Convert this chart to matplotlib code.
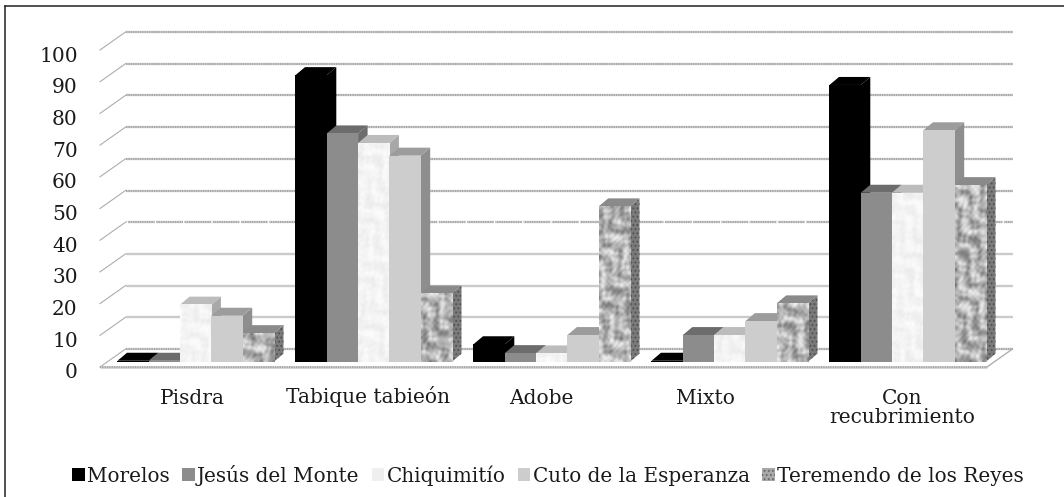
import matplotlib
matplotlib.use("Agg")
import numpy as np
import matplotlib.pyplot as plt
from matplotlib.patches import Polygon, Patch
from matplotlib.lines import Line2D
from matplotlib.transforms import ScaledTranslation

plt.rcParams['font.family'] = ['DejaVu Serif']
plt.rcParams['hatch.linewidth'] = 0.8

categories = ['Pisdra', 'Tabique tabieón', 'Adobe', 'Mixto', 'Con\nrecubrimiento']
morelos = [0.3, 90.4, 5.5, 0.3, 87.3]
jesus = [0.3, 72, 2.7, 8.4, 53.3]
chiquimitio = [18, 69, 2.6, 8.4, 53.3]
cuto = [14.5, 65, 8.4, 12.8, 73]
teremendo = [9, 21.5, 49, 18.4, 55.7]
series_names = ['Morelos', 'Jesús del Monte', 'Chiquimitío', 'Cuto de la Esperanza', 'Teremendo de los Reyes']
series_values = [morelos, jesus, chiquimitio, cuto, teremendo]
y_ticks = list(range(0, 101, 10))

W, H = 1064, 497
fig = plt.figure(figsize=(W / 100, H / 100), dpi=100, facecolor='white')
L, R, B, T = 100, 987, 367, 50
ax = fig.add_axes([L / W, 1 - B / H, (R - L) / W, (B - T) / H])
PX = 178.0
xmax = (R - L) / PX
for s in ax.spines.values():
    s.set_visible(False)
ax.patch.set_visible(False)

ux = 1 / PX
uy = 100 / (B - T)
wall_dx, wall_dy = 25.5 * ux, 18 * uy
bar_dx, bar_dy = 9.5 * ux, 8 * uy
base = 5.3 * uy
bw = 31.3 * ux
gstart = 0.0983

serrated = [100, 90, 80, 70, 60, 50, 40]
for v in y_ticks:
    yb = v + wall_dy
    ax.plot([0, wall_dx], [v, yb], color='#adadad', lw=0.8, clip_on=False, zorder=1)
    ax.plot([wall_dx, xmax + wall_dx], [yb, yb], color='#cbcbcb', lw=1.7,
            clip_on=False, zorder=1, solid_capstyle='butt')
    if v in serrated or v == 0:
        ax.plot([wall_dx, xmax + wall_dx], [yb, yb], color='#a0a0a0', lw=1.2,
                linestyle=(0, (0.7, 0.7)), clip_on=False, zorder=1)
    if v == 40:
        ax.plot([wall_dx, xmax + wall_dx], [yb, yb], color='white', lw=2.2,
                linestyle=(0, (0.45, 8.8)), clip_on=False, zorder=1.5)
ax.plot([0, xmax], [0, 0], color='#cbcbcb', lw=1.8, clip_on=False, zorder=1, solid_capstyle='butt')
ax.plot([0, xmax], [0, 0], color='#a0a0a0', lw=1.2, linestyle=(0, (0.7, 0.7)), clip_on=False, zorder=1)
ax.plot([xmax, xmax + wall_dx], [0, wall_dy], color='#b0b0b0', lw=1.0, clip_on=False, zorder=1)

front = ['#000000', '#8c8c8c', '#f6f6f6', '#cdcdcd', '#b4b4b4']
top = ['#000000', '#6c6c6c', '#bcbcbc', '#9c9c9c', '#8a8a8a']
side = ['#000000', '#6c6c6c', '#a8a8a8', '#8e8e8e', '#7a7a7a']
tex_level = [None, None, 0.955, None, 0.71]
tex_amp = [None, None, 0.03, None, 0.2]
hatch_side = [None, None, None, None, '....']


def marble(w_px, h_px, x_px, y_px, level, amp):
    """Deterministic marbled surface for the stone-like bar fills."""
    nx, ny = max(int(w_px / 2), 2), max(int(h_px / 2), 2)
    xx, yy = np.meshgrid(x_px + np.linspace(0, w_px, nx), y_px + np.linspace(0, h_px, ny))
    tex = (np.sin(0.61 * xx + 2.7 * np.sin(0.23 * yy + 0.4)) * np.sin(0.53 * yy + 2.3 * np.sin(0.29 * xx + 1))
           + 0.6 * np.sin(0.31 * xx - 0.19 * yy + 2.5 * np.sin(0.13 * xx + 0.11 * yy))
           + 0.4 * np.sin(1.07 * xx + 0.83 * yy + 3 * np.sin(0.17 * yy)))
    return np.clip(level + amp * tex, 0, 1)


z = 3
for s, vals in enumerate(series_values):
    zs = z + s * 0.1
    for g, v in enumerate(vals):
        x0 = g + gstart + s * bw
        x1 = x0 + bw
        yt = base + v
        ax.add_patch(Polygon([(x1, base), (x1 + bar_dx, base + bar_dy), (x1 + bar_dx, yt + bar_dy), (x1, yt)],
                             closed=True, facecolor=side[s], edgecolor='#505050' if hatch_side[s] else side[s],
                             hatch=hatch_side[s], lw=0, clip_on=False, zorder=zs))
        ax.add_patch(Polygon([(x0, yt), (x0 + bar_dx, yt + bar_dy), (x1 + bar_dx, yt + bar_dy), (x1, yt)],
                             closed=True, facecolor=top[s], edgecolor=top[s], lw=0, clip_on=False, zorder=zs))
        if tex_level[s] is not None:
            img = marble(bw * PX, v / uy, x0 * PX, g * 37.0, tex_level[s], tex_amp[s])
            ax.imshow(img, extent=(x0, x1, base, yt), cmap='gray', vmin=0, vmax=1, aspect='auto',
                      interpolation='bicubic', clip_on=False, zorder=zs + 0.07)
    ax.bar([g + gstart + (s + 0.5) * bw for g in range(len(vals))], vals, width=bw, bottom=base,
           color=front[s], linewidth=0, clip_on=False, zorder=zs + 0.05)

ax.set_xlim(0, xmax)
ax.set_ylim(0, 100)

ax.set_yticks(y_ticks)
ax.set_yticklabels([str(v) for v in y_ticks], fontsize=14.5, color='#1a1a1a')
ax.tick_params(axis='y', length=0, pad=16)
off = ScaledTranslation(0, -4 / 100, fig.dpi_scale_trans)
for lab in ax.get_yticklabels():
    lab.set_transform(lab.get_transform() + off)

label_centers = [192, 368, 541, 705, 902]
label_lift_px = [0, 3, 0, 0, 0]
ax.set_xticks([(c - L) / PX for c in label_centers])
ax.set_xticklabels(categories, fontsize=14.5, color='#1a1a1a', linespacing=1.02)
ax.tick_params(axis='x', length=0, pad=15.5)
for lab, lift in zip(ax.get_xticklabels(), label_lift_px):
    lab.set_transform(lab.get_transform() + ScaledTranslation(0, lift / 100, fig.dpi_scale_trans))

handles = [Patch(facecolor=c if c != '#f6f6f6' else '#efefef', edgecolor='none') for c in front]
handles[4] = Patch(facecolor='#a8a8a8', edgecolor='#666666', hatch='....', lw=0)
ax.legend(handles, series_names, ncol=5, loc='center', bbox_to_anchor=(548 / W, 1 - 475 / H),
          bbox_transform=fig.transFigure, frameon=False, fontsize=14.4, handlelength=0.62, handleheight=0.62,
          handletextpad=0.12, columnspacing=0.62, borderpad=0, labelcolor='#1a1a1a')

fig.add_artist(Line2D([5 / W, 5 / W], [0, 1 - 6 / H], color='#222222', lw=1.1))
fig.add_artist(Line2D([5 / W, 1], [1 - 6 / H, 1 - 6 / H], color='#222222', lw=1.1))

fig.savefig('out.png', dpi=100, facecolor='white')
